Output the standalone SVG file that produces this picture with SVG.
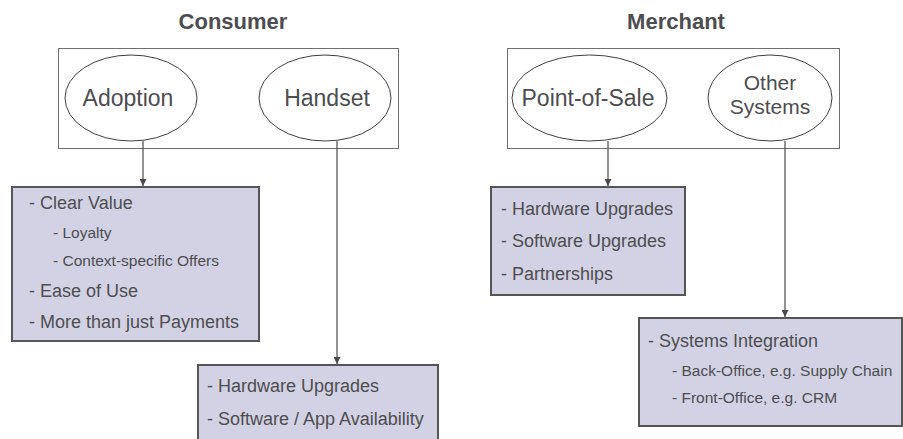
<svg xmlns="http://www.w3.org/2000/svg" width="903" height="439" viewBox="0 0 903 439">
<defs>
<style>
text{font-family:"Liberation Sans",Arial,sans-serif;fill:#4d4d4f}
.title{font-size:22px;font-weight:bold;text-anchor:middle}
.lbl{font-size:23px;text-anchor:middle}
.lbl2{font-size:21px;text-anchor:middle}
.big{font-size:18px}
.sm{font-size:15.5px}
.group{fill:#fff;stroke:#6f6f6f;stroke-width:1}
.ell{fill:#fff;stroke:#3f3f3f;stroke-width:1}
.box{fill:#d3d2e5;stroke:#555;stroke-width:2}
.conn{stroke:#4a4a4a;stroke-width:1.2;fill:none}
</style>
<marker id="ah" viewBox="0 0 10 10" refX="10" refY="5" markerWidth="7" markerHeight="7" markerUnits="userSpaceOnUse" orient="auto">
<path d="M0,0L10,5L0,10z" fill="#4a4a4a"/>
</marker>
</defs>
<rect width="903" height="439" fill="#fff"/>
<g id="consumer-title"><text class="title" x="233" y="29">Consumer</text></g>
<g id="merchant-title"><text class="title" x="676" y="29">Merchant</text></g>
<g id="consumer-group"><rect class="group" x="58.5" y="48.5" width="340" height="100"/></g>
<g id="merchant-group"><rect class="group" x="507.5" y="48.5" width="332" height="100"/></g>
<g id="adoption"><ellipse class="ell" cx="131" cy="98" rx="66" ry="43"/><text class="lbl" x="128" y="106">Adoption</text></g>
<g id="handset"><ellipse class="ell" cx="325" cy="98" rx="66" ry="43"/><text class="lbl" x="327" y="106">Handset</text></g>
<g id="pos"><ellipse class="ell" cx="589.5" cy="98" rx="77.5" ry="43"/><text class="lbl" x="588" y="106">Point-of-Sale</text></g>
<g id="other"><ellipse class="ell" cx="770" cy="98" rx="62" ry="43"/><text class="lbl2" x="770" y="90">Other</text><text class="lbl2" x="770" y="114">Systems</text></g>
<g id="connectors">
<line class="conn" x1="143" y1="141" x2="143" y2="186" marker-end="url(#ah)"/>
<line class="conn" x1="337" y1="141" x2="337" y2="364" marker-end="url(#ah)"/>
<line class="conn" x1="608" y1="141" x2="608" y2="186" marker-end="url(#ah)"/>
<line class="conn" x1="785" y1="141" x2="785" y2="317" marker-end="url(#ah)"/>
</g>
<g id="box-adoption">
<rect class="box" x="12" y="187" width="247" height="154"/>
<text class="big" x="29" y="209">- Clear Value</text>
<text class="sm" x="53" y="238">- Loyalty</text>
<text class="sm" x="53" y="266">- Context-specific Offers</text>
<text class="big" x="29" y="297">- Ease of Use</text>
<text class="big" x="29" y="328">- More than just Payments</text>
</g>
<g id="box-handset">
<rect class="box" x="198" y="365" width="240" height="90"/>
<text class="big" x="207" y="392">- Hardware Upgrades</text>
<text class="big" x="207" y="425">- Software / App Availability</text>
</g>
<g id="box-pos">
<rect class="box" x="491" y="187" width="194" height="108"/>
<text class="big" x="501" y="215">- Hardware Upgrades</text>
<text class="big" x="501" y="247">- Software Upgrades</text>
<text class="big" x="501" y="280">- Partnerships</text>
</g>
<g id="box-other">
<rect class="box" x="639" y="318" width="263" height="108"/>
<text class="big" x="648" y="347">- Systems Integration</text>
<text class="sm" x="672" y="376">- Back-Office, e.g. Supply Chain</text>
<text class="sm" x="672" y="403">- Front-Office, e.g. CRM</text>
</g>
</svg>
